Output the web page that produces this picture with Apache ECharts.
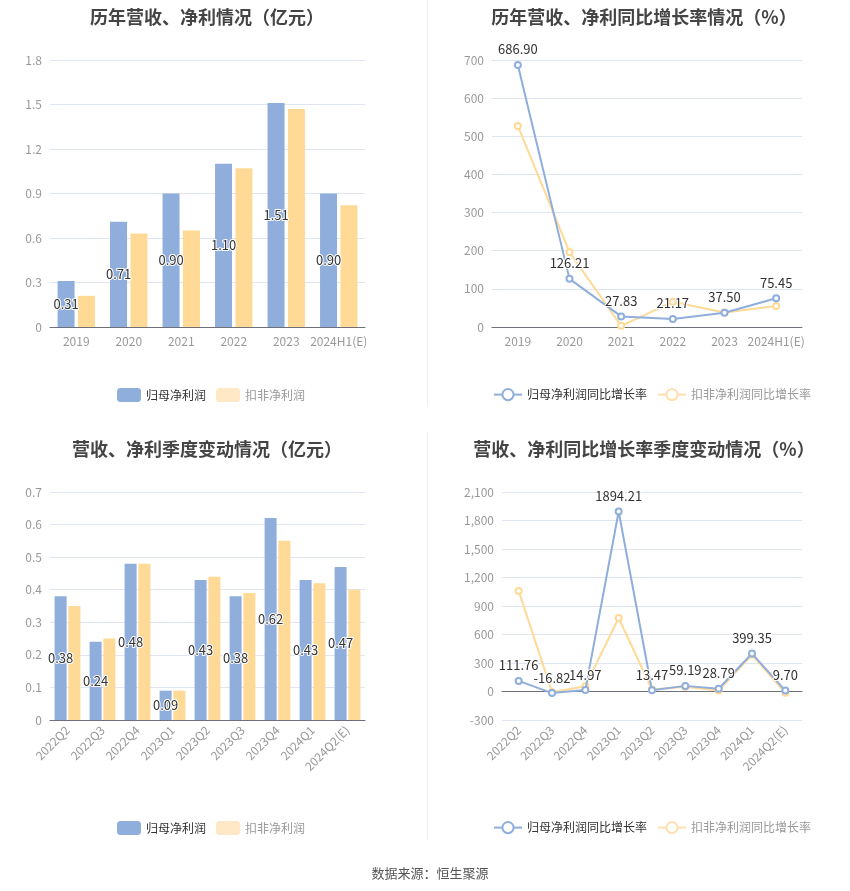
<!DOCTYPE html>
<html>
<head>
<meta charset="utf-8">
<script src="https://cdn.jsdelivr.net/npm/echarts@6/dist/echarts.min.js"></script>
<style>
html,body{margin:0;padding:0;background:#fff;}
#main{width:850px;height:891px;}
</style>
</head>
<body>
<div id="main"></div>
<script>
const yearCats = ['2019','2020','2021','2022','2023','2024H1(E)'];
const yearNet = [0.31, 0.71, 0.90, 1.10, 1.51, 0.90];
const yearDeduct = [0.21, 0.63, 0.65, 1.07, 1.47, 0.82];
const yearNetGrowth = [686.90, 126.21, 27.83, 21.17, 37.50, 75.45];
const yearDeductGrowth = [527, 196, 3, 66, 38, 55];

const qCats = ['2022Q2','2022Q3','2022Q4','2023Q1','2023Q2','2023Q3','2023Q4','2024Q1','2024Q2(E)'];
const qNet = [0.38, 0.24, 0.48, 0.09, 0.43, 0.38, 0.62, 0.43, 0.47];
const qDeduct = [0.35, 0.25, 0.48, 0.09, 0.44, 0.39, 0.55, 0.42, 0.40];
const qNetGrowth = [111.76, -16.82, 14.97, 1894.21, 13.47, 59.19, 28.79, 399.35, 9.70];
const qDeductGrowth = [1059, -7, 56, 774, 21, 49, 10, 387, -14];

const titles = ['历年营收、净利情况（亿元）','历年营收、净利同比增长率情况（%）','营收、净利季度变动情况（亿元）','营收、净利同比增长率季度变动情况（%）'];
const barNames = ['归母净利润','扣非净利润'];
const lineNames = ['归母净利润同比增长率','扣非净利润同比增长率'];
const source = '数据来源：恒生聚源';

const BLUE = '#8FAEDC', ORANGE = '#FFD996', ORANGE_L = '#FFE8C6', ORANGE_LL = '#FFDFAE';
const FONT = 'Noto Sans CJK SC';

const chart = echarts.init(document.getElementById('main'));

function xAxis(gi, cats, rotate){
  return {
    type:'category', gridIndex:gi, data:cats,
    axisTick:{alignWithLabel:true, lineStyle:{color:'#6E7079'}},
    axisLine:{lineStyle:{color:'#6E7079'}},
    axisLabel:{color:'#999', fontSize:12, rotate:rotate, margin:8, fontFamily:FONT, interval:0}
  };
}
function yAxis(gi, min, max, interval, fmt){
  return {
    type:'value', gridIndex:gi, min:min, max:max, interval:interval,
    axisLine:{show:false}, axisTick:{show:false},
    splitLine:{lineStyle:{color:'#E0E6F1'}},
    axisLabel:{color:'#999', fontSize:12, fontFamily:FONT, formatter:fmt}
  };
}
const barLabel = {
  show:true, position:'inside', color:'#333', fontSize:13, fontFamily:FONT,
  textBorderColor:'#fff', textBorderWidth:2,
  formatter:(p)=>p.value.toFixed(2)
};
const lineLabel = {
  show:true, position:'top', color:'#333', fontSize:13, fontFamily:FONT,
  textBorderColor:'#fff', textBorderWidth:2,
  formatter:(p)=>p.value.toFixed(2)
};
function barLegend(top){
  return {left:112, top:top, itemWidth:24, itemHeight:14, itemGap:10, icon:'roundRect',
    textStyle:{fontSize:12, fontFamily:FONT}, selectedMode:false,
    data:[{name:barNames[0], itemStyle:{color:BLUE}, textStyle:{color:'#333'}},
          {name:barNames[1], itemStyle:{color:ORANGE_L}, textStyle:{color:'#999'}}]};
}
function lineLegend(top){
  return {left:488, top:top, itemWidth:28, itemHeight:14, itemGap:10,
    textStyle:{fontSize:12, fontFamily:FONT}, selectedMode:false,
    data:[{name:lineNames[0], textStyle:{color:'#333'}},
          {name:lineNames[1], itemStyle:{color:ORANGE_LL}, lineStyle:{color:ORANGE_LL}, textStyle:{color:'#999'}}]};
}

const option = {
  backgroundColor:'#fff',
  animation:false,
  title: [
    {text:titles[0], left:202, top:3, textAlign:'center'},
    {text:titles[1], left:639, top:3, textAlign:'center'},
    {text:titles[2], left:202, top:435, textAlign:'center'},
    {text:titles[3], left:639, top:435, textAlign:'center'},
    {text:source, left:425, top:862, textAlign:'center', textStyle:{fontSize:13, fontWeight:'normal', color:'#555', fontFamily:FONT}}
  ].map((t,i)=> i<4 ? Object.assign(t,{textStyle:{fontSize:18, fontWeight:'bold', color:'#444', fontFamily:FONT}}) : t),
  graphic:[
    {type:'line', shape:{x1:427.5,y1:0,x2:427.5,y2:407}, style:{stroke:'#eee', lineWidth:1}},
    {type:'line', shape:{x1:427.5,y1:432,x2:427.5,y2:840}, style:{stroke:'#eee', lineWidth:1}}
  ],
  legend:[ barLegend(383), lineLegend(383), barLegend(816), lineLegend(816) ],
  grid:[
    {left:50, top:60, width:315, height:267},
    {left:492, top:60, width:310, height:267},
    {left:50, top:492, width:315, height:228},
    {left:502, top:492, width:300, height:228}
  ],
  xAxis:[
    xAxis(0, yearCats, 0),
    xAxis(1, yearCats, 0),
    xAxis(2, qCats, 45),
    xAxis(3, qCats, 45)
  ],
  yAxis:[
    yAxis(0, 0, 1.8, 0.3, (v)=>String(+v.toFixed(1))),
    yAxis(1, 0, 700, 100, (v)=>String(v)),
    yAxis(2, 0, 0.7, 0.1, (v)=>String(+v.toFixed(1))),
    yAxis(3, -300, 2100, 300, (v)=>v.toLocaleString('en-US'))
  ],
  series:[
    {name:barNames[0], type:'bar', xAxisIndex:0, yAxisIndex:0, data:yearNet, barWidth:17, barGap:'20%', itemStyle:{color:BLUE}, label:barLabel},
    {name:barNames[1], type:'bar', xAxisIndex:0, yAxisIndex:0, data:yearDeduct, barWidth:17, barGap:'20%', itemStyle:{color:ORANGE}},
    {name:lineNames[0], type:'line', xAxisIndex:1, yAxisIndex:1, data:yearNetGrowth, symbol:'emptyCircle', symbolSize:6, lineStyle:{color:BLUE, width:2, type:'solid'}, itemStyle:{color:BLUE}, label:lineLabel, z:3},
    {name:lineNames[1], type:'line', xAxisIndex:1, yAxisIndex:1, data:yearDeductGrowth, symbol:'emptyCircle', symbolSize:6, lineStyle:{color:ORANGE, width:2, type:'solid'}, itemStyle:{color:ORANGE}, z:2},
    {name:barNames[0], type:'bar', xAxisIndex:2, yAxisIndex:2, data:qNet, barWidth:12, barGap:'15%', itemStyle:{color:BLUE}, label:barLabel},
    {name:barNames[1], type:'bar', xAxisIndex:2, yAxisIndex:2, data:qDeduct, barWidth:12, barGap:'15%', itemStyle:{color:ORANGE}},
    {name:lineNames[0], type:'line', xAxisIndex:3, yAxisIndex:3, data:qNetGrowth, symbol:'emptyCircle', symbolSize:6, lineStyle:{color:BLUE, width:2, type:'solid'}, itemStyle:{color:BLUE}, label:lineLabel, z:3},
    {name:lineNames[1], type:'line', xAxisIndex:3, yAxisIndex:3, data:qDeductGrowth, symbol:'emptyCircle', symbolSize:6, lineStyle:{color:ORANGE, width:2, type:'solid'}, itemStyle:{color:ORANGE}, z:2}
  ]
};
chart.setOption(option);
</script>
</body>
</html>
